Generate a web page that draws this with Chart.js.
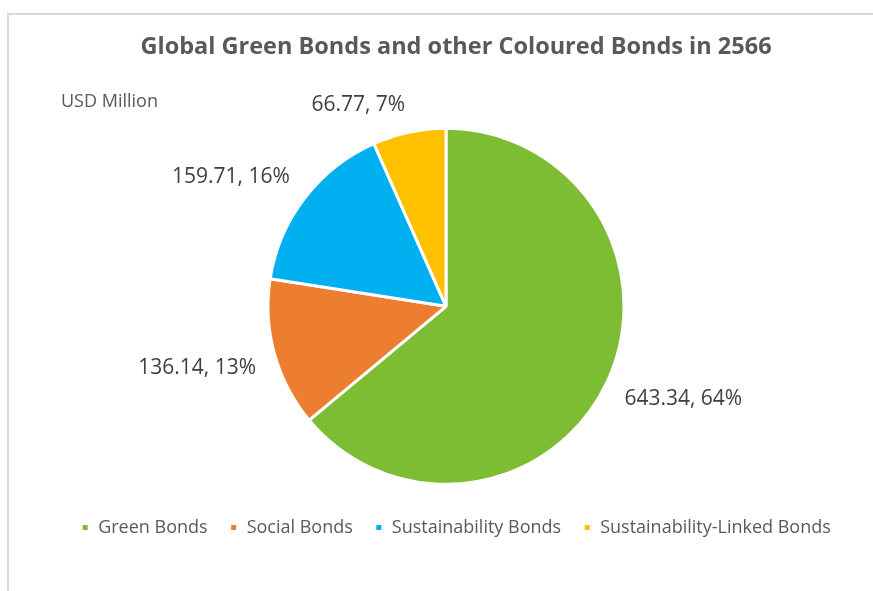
<!DOCTYPE html>
<html>
<head>
<meta charset="utf-8">
<script src="https://cdn.jsdelivr.net/npm/chart.js@4/dist/chart.umd.min.js"></script>
<style>
  html, body { margin: 0; padding: 0; background: #ffffff; overflow: hidden; width: 873px; height: 591px; }
  #frame { position: absolute; left: 7px; top: 13px; width: 920px; height: 600px;
           border-top: 2px solid #d9d9d9; border-left: 2px solid #d9d9d9; }
  #c { position: absolute; left: 10px; top: 15px; }
</style>
</head>
<body>
<div id="frame"></div>
<canvas id="c" width="892" height="576"></canvas>
<script>
const titleText = 'Global Green Bonds and other Coloured Bonds in 2566';
const unitText = 'USD Million';
const categories = ['Green Bonds', 'Social Bonds', 'Sustainability Bonds', 'Sustainability-Linked Bonds'];
const values = [643.34, 136.14, 159.71, 66.77];
const percentLabels = [64, 13, 16, 7];
const colors = ['#7CBD34', '#ED7D31', '#00B0F0', '#FFC000'];

const FONT = '"Open Sans", Roboto, sans-serif';

const spacerPlugin = {
  id: 'spacer',
  beforeInit(chart) {
    const box = {
      position: 'right', weight: 0, fullSize: false, options: {},
      left: 0, top: 0, right: 0, bottom: 0, width: 0, height: 0,
      update(maxWidth, maxHeight) { this.width = 20; this.height = maxHeight; },
      isHorizontal() { return false; },
      draw() {}
    };
    Chart.layouts.addBox(chart, box);
  }
};

const labelPlugin = {
  id: 'pieLabels',
  afterDraw(chart) {
    const ctx = chart.ctx;
    ctx.save();
    ctx.font = '18px ' + FONT;
    ctx.fillStyle = '#595959';
    ctx.textAlign = 'left';
    ctx.textBaseline = 'middle';
    ctx.fillText(unitText, 51, 87);
    const meta = chart.getDatasetMeta(0);
    ctx.font = '21px ' + FONT;
    ctx.fillStyle = '#404040';
    const h = 18;
    meta.data.forEach((arc, i) => {
      const p = arc.getProps(['x', 'y', 'startAngle', 'endAngle', 'outerRadius'], true);
      const mid = (p.startAngle + p.endAngle) / 2;
      const dx = Math.cos(mid), dy = Math.sin(mid);
      const R = p.outerRadius + 19;
      const px = p.x + R * dx, py = p.y + R * dy;
      ctx.textAlign = dx < 0 ? 'right' : 'left';
      const cy = dy < 0 ? py - h / 2 : py + h / 2;
      ctx.fillText(values[i].toFixed(2) + ', ' + percentLabels[i] + '%', px, cy);
    });
    ctx.restore();
  }
};

new Chart(document.getElementById('c'), {
  type: 'pie',
  data: {
    labels: categories,
    datasets: [{
      data: values,
      backgroundColor: colors,
      borderColor: '#ffffff',
      borderWidth: 3,
      radius: 178
    }]
  },
  options: {
    responsive: false,
    animation: false,
    devicePixelRatio: 1,
    layout: { padding: { left: 0, right: 0, top: 0, bottom: 44.5 } },
    plugins: {
      title: {
        display: true,
        text: titleText,
        color: '#595959',
        font: { family: FONT, size: 23.5, weight: 'bold', lineHeight: 1.2 },
        padding: { top: 18, bottom: 55 }
      },
      legend: {
        display: true,
        position: 'bottom',
        labels: {
          color: '#595959',
          font: { family: FONT, size: 18 },
          boxWidth: 8,
          boxHeight: 8,
          padding: 22
        }
      },
      tooltip: { enabled: false }
    }
  },
  plugins: [spacerPlugin, labelPlugin]
});
</script>
</body>
</html>
